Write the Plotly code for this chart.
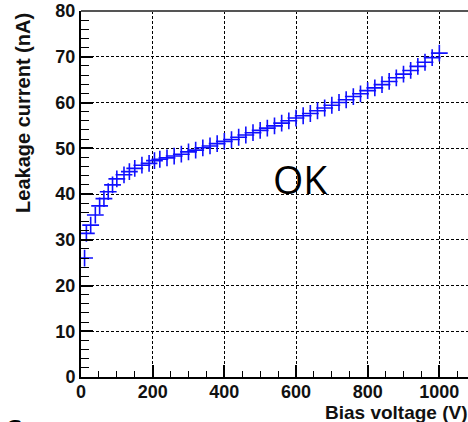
import plotly.graph_objects as go

# Bias scan: applied voltage (V) and measured leakage current (nA)
bias_v = [10, 15, 27, 40, 52, 64, 76, 88, 100, 120, 135, 150, 170, 190, 205, 220,
          240, 260, 280, 300, 320, 340, 360, 380, 400, 420, 440, 460, 480, 500,
          520, 540, 560, 580, 600, 620, 640, 660, 680, 700, 720, 740, 760, 780,
          800, 820, 840, 860, 880, 900, 920, 940, 960, 980, 1000]
leak_na = [26.0, 31.4, 33.2, 35.4, 37.4, 39.0, 40.5, 42.0, 43.3, 44.2, 44.9, 45.6, 46.3, 46.7, 47.3, 47.6,
           47.9, 48.3, 48.7, 49.2, 49.6, 50.1, 50.5, 51.0, 51.5, 51.9, 52.4, 52.9, 53.4, 53.9,
           54.4, 54.9, 55.5, 56.0, 56.6, 57.1, 57.6, 58.2, 58.8, 59.4, 60.0, 60.6, 61.3, 61.9,
           62.6, 63.2, 63.9, 64.6, 65.4, 66.2, 67.0, 67.9, 68.8, 69.8, 70.8]

x_ticks = [0, 200, 400, 600, 800, 1000]
y_ticks = [0, 10, 20, 30, 40, 50, 60, 70, 80]

tick_font = dict(family="Liberation Sans", size=18, color="#111111", weight="bold")

fig = go.Figure()
fig.add_trace(go.Scatter(
    x=bias_v, y=leak_na, mode="markers",
    marker=dict(symbol="cross-thin", size=12, color="#1010ff",
                line=dict(color="#1010ff", width=1.6)),
    showlegend=False,
))

fig.update_xaxes(
    range=[0, 1080], tickvals=x_ticks, ticktext=[str(v) for v in x_ticks],
    ticks="inside", ticklen=12, tickwidth=1.5, tickcolor="black", ticklabelstandoff=-3,
    minor=dict(dtick=50, ticks="inside", ticklen=6, tickwidth=1.2, tickcolor="black", showgrid=False),
    showline=True, linecolor="black", linewidth=2,
    showgrid=True, gridcolor="black", gridwidth=1, griddash="3px,2px",
    tickfont=tick_font, zeroline=False,
)
fig.update_yaxes(
    range=[0, 80], tickvals=y_ticks, ticktext=[str(v) for v in y_ticks],
    ticks="inside", ticklen=12, tickwidth=1.5, tickcolor="black",
    minor=dict(dtick=2, ticks="inside", ticklen=8, tickwidth=1.2, tickcolor="black", showgrid=False),
    showline=True, linecolor="black", linewidth=2,
    showgrid=True, gridcolor="black", gridwidth=1, griddash="3px,2px",
    tickfont=tick_font, zeroline=False,
)

# top frame edge
fig.add_shape(type="line", xref="paper", yref="paper", x0=0, x1=1, y0=1, y1=1,
              line=dict(color="#555555", width=2))

fig.add_annotation(text="Bias voltage (V)", xref="paper", yref="paper",
                   x=1.005, y=-0.097, xanchor="right", yanchor="middle", showarrow=False,
                   font=dict(family="Liberation Sans", size=19, color="#111111", weight="bold"))
fig.add_annotation(text="Leakage current (nA)", xref="paper", yref="paper",
                   x=-0.15, y=1.0, xanchor="center", yanchor="top", textangle=-90, showarrow=False,
                   font=dict(family="Liberation Sans", size=20, color="#111111", weight="bold"))
fig.add_annotation(text="OK", x=611, y=43.3, xref="x", yref="y", showarrow=False,
                   font=dict(family="Open Sans", size=39, color="black"))
fig.add_annotation(text="S", xref="paper", yref="paper", x=-0.2, y=-0.082, xanchor="left", yanchor="top",
                   showarrow=False, font=dict(family="Open Sans", size=30, color="black"))

fig.update_layout(
    width=468, height=422,
    margin=dict(l=81, r=0, t=11, b=45),
    paper_bgcolor="white", plot_bgcolor="white",
)
fig.write_html("out.html")
